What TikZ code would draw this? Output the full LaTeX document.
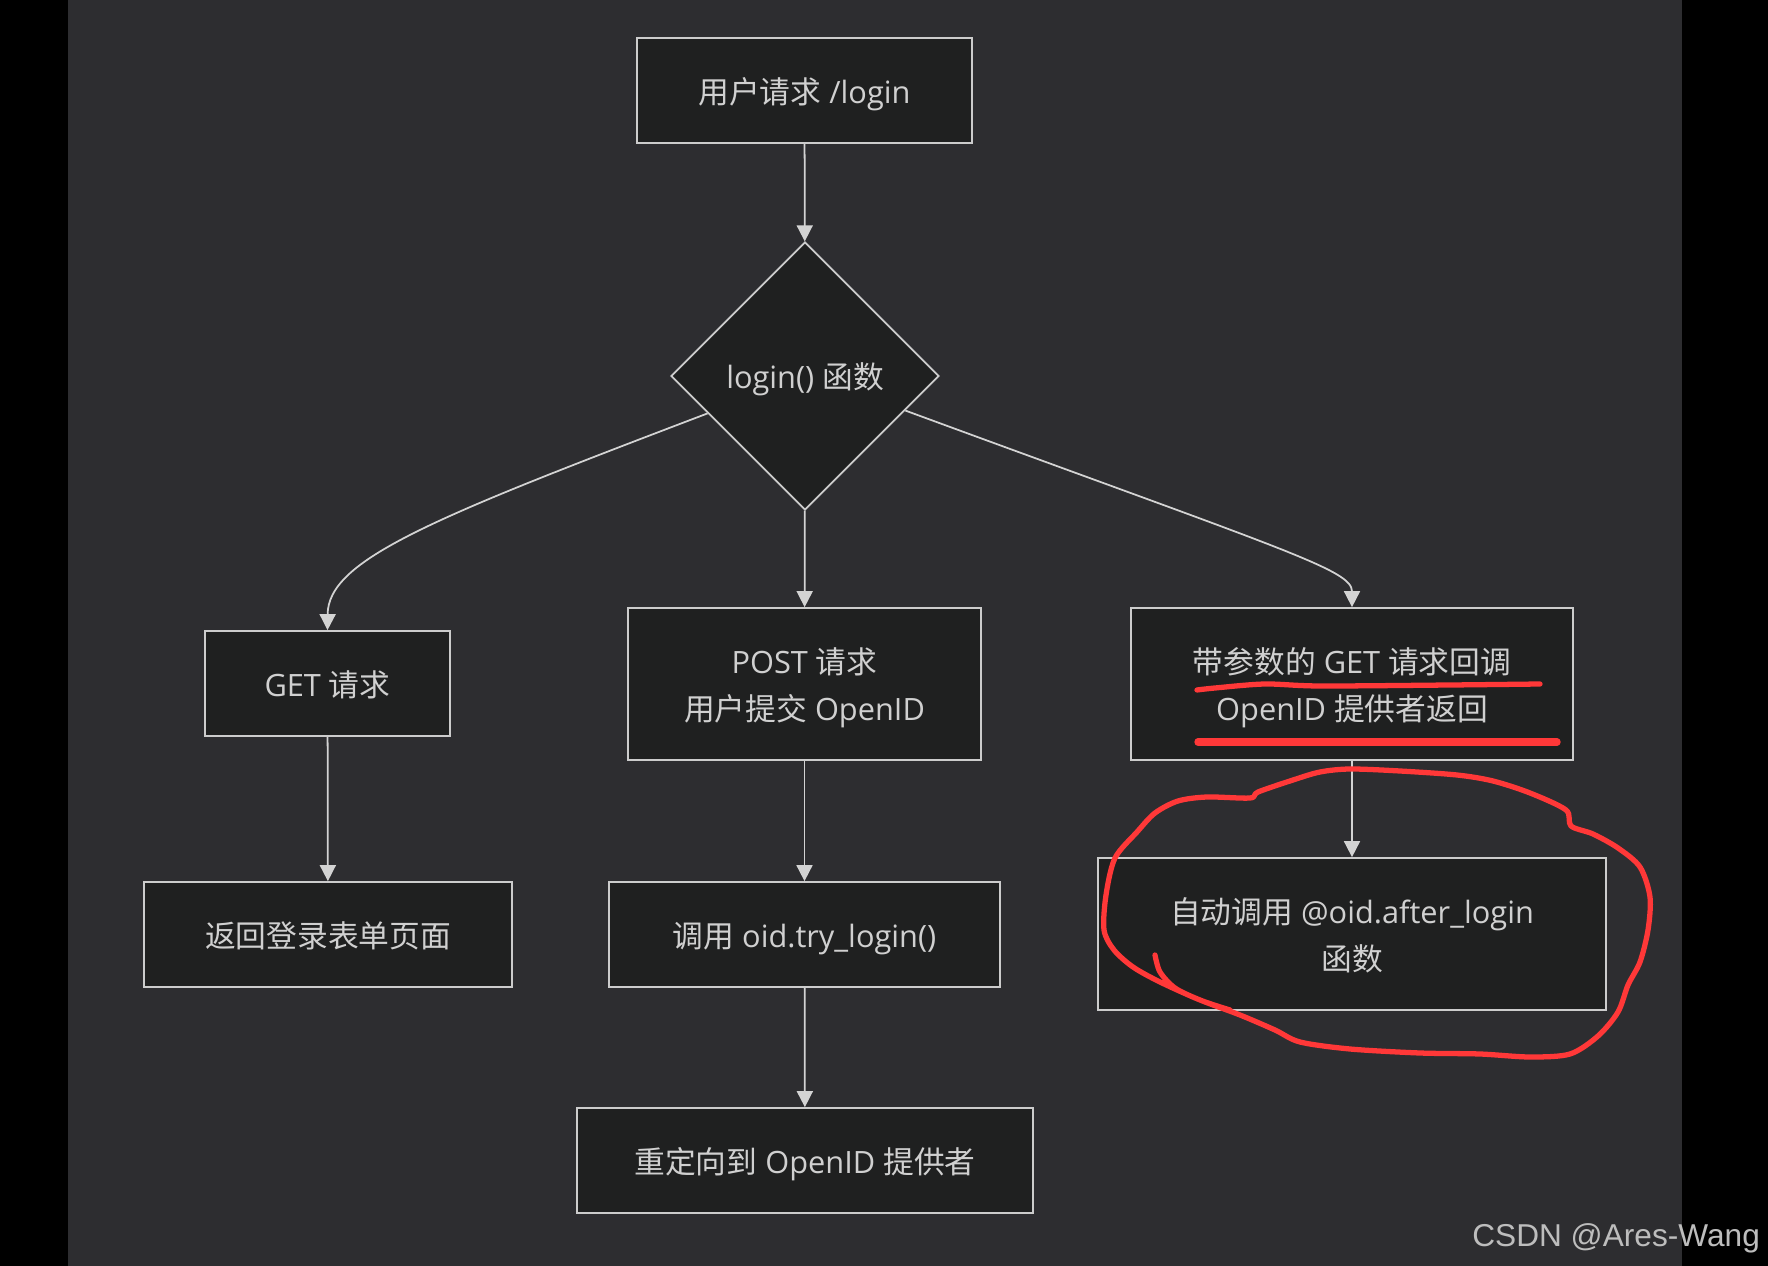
\documentclass[tikz,border=0pt]{standalone}
\usepackage{fontspec}
\setmainfont{Open Sans}
\newfontfamily\zhfont{Noto Sans CJK SC}
\newfontfamily\wmfont{Liberation Sans}
\newcommand{\zh}[1]{{\zhfont #1}}
\usepackage{xcolor}
\usepackage{tikz}
\usetikzlibrary{arrows.meta,shapes.geometric}
\definecolor{pagebg}{HTML}{2D2D30}
\definecolor{boxbg}{HTML}{1F2020}
\definecolor{boxline}{HTML}{CCCCCC}
\definecolor{linec}{HTML}{D3D3D3}
\definecolor{txtc}{HTML}{D0D0D0}
\definecolor{penred}{HTML}{FF3838}
\definecolor{wmgray}{HTML}{BDBDBD}
\tikzset{
  ar/.style={-{Triangle[length=3.2mm,width=3.2mm]},line width=1pt,draw=linec},
  box/.style={draw=boxline,line width=1pt,fill=boxbg,text=txtc,align=center,inner sep=0pt,text depth=0pt,
    font=\fontsize{17.5pt}{26.7pt}\selectfont},
  decide/.style={box,shape=diamond,aspect=1,minimum size=5.36cm},
  pen/.style={draw=penred,line cap=round,line join=round}
}
\begin{document}
\begin{tikzpicture}[x=0.02cm,y=-0.02cm]
\useasboundingbox (0,0) rectangle (1768,1266);
\fill[black] (0,0) rectangle (1768,1266);
\fill[pagebg] (68,0) rectangle (1682,1266);
% nodes
\node[box,minimum width=6.7cm,minimum height=2.1cm] (req) at (804.5,90.5) {\zh{用户请求} /login};
\node[decide] (fn) at (805,376) {login() \zh{函数}};
\node[box,minimum width=4.9cm,minimum height=2.1cm] (get) at (327.5,683.5) {GET \zh{请求}};
\node[box,minimum width=7.06cm,minimum height=3.04cm] (post) at (804.5,684) {POST \zh{请求}\\\zh{用户提交} OpenID};
\node[box,minimum width=8.84cm,minimum height=3.04cm] (cb) at (1352,684) {\zh{带参数的} GET \zh{请求回调}\\OpenID \zh{提供者返回}};
\node[box,minimum width=7.36cm,minimum height=2.1cm] (form) at (328,934.5) {\zh{返回登录表单页面}};
\node[box,minimum width=7.82cm,minimum height=2.1cm] (try) at (804.5,934.5) {\zh{调用} oid.try\_login()};
\node[box,minimum width=10.16cm,minimum height=3.04cm] (auto) at (1352,934) {\zh{自动调用} @oid.after\_login\\\zh{函数}};
\node[box,minimum width=9.12cm,minimum height=2.1cm] (redir) at (805,1160.5) {\zh{重定向到} OpenID \zh{提供者}};
% connectors
\draw[ar] (req) -- (fn);
\draw[ar] (fn.201) .. controls (430,519) and (328,560) .. (get.north);
\draw[ar] (fn) -- (post);
\draw[ar] (fn.341) .. controls (1290,552) and (1352,570) .. (cb.north);
\draw[ar] (get) -- (form);
\draw[ar] (post) -- (try);
\draw[ar] (cb) -- (auto);
\draw[ar] (try) -- (redir);
% red marks
\draw[pen,line width=3pt] plot[smooth] coordinates {(1197,690) (1215,688) (1265,684) (1320,686) (1450,685) (1540,684)};
\draw[pen,line width=4.2pt] (1198,742) -- (1557,742);
\draw[pen,line width=3pt] plot[smooth] coordinates {(1155,955) (1160,972) (1175,988) (1200,1000) (1240,1015)
  (1275,1030) (1300,1042) (1350,1049) (1420,1053) (1480,1054) (1530,1057) (1570,1054) (1598,1036)
  (1618,1012) (1628,985) (1640,962) (1648,930) (1650,897) (1640,867) (1618,848) (1593,834) (1571,826)
  (1566,810) (1530,793) (1493,781) (1457,775) (1400,771) (1350,769) (1320,772) (1293,780) (1258,792)
  (1250,798) (1207,797) (1178,801) (1155,813) (1137,832) (1115,858) (1106,895) (1104,930) (1114,950)
  (1133,967) (1160,982) (1200,1000) (1230,1010)};
\node[anchor=base west,inner sep=0pt,text=wmgray,font=\wmfont\fontsize{18pt}{20pt}\selectfont] (wm) at (1472,1246) {CSDN @Ares-Wang};
\end{tikzpicture}
\end{document}
